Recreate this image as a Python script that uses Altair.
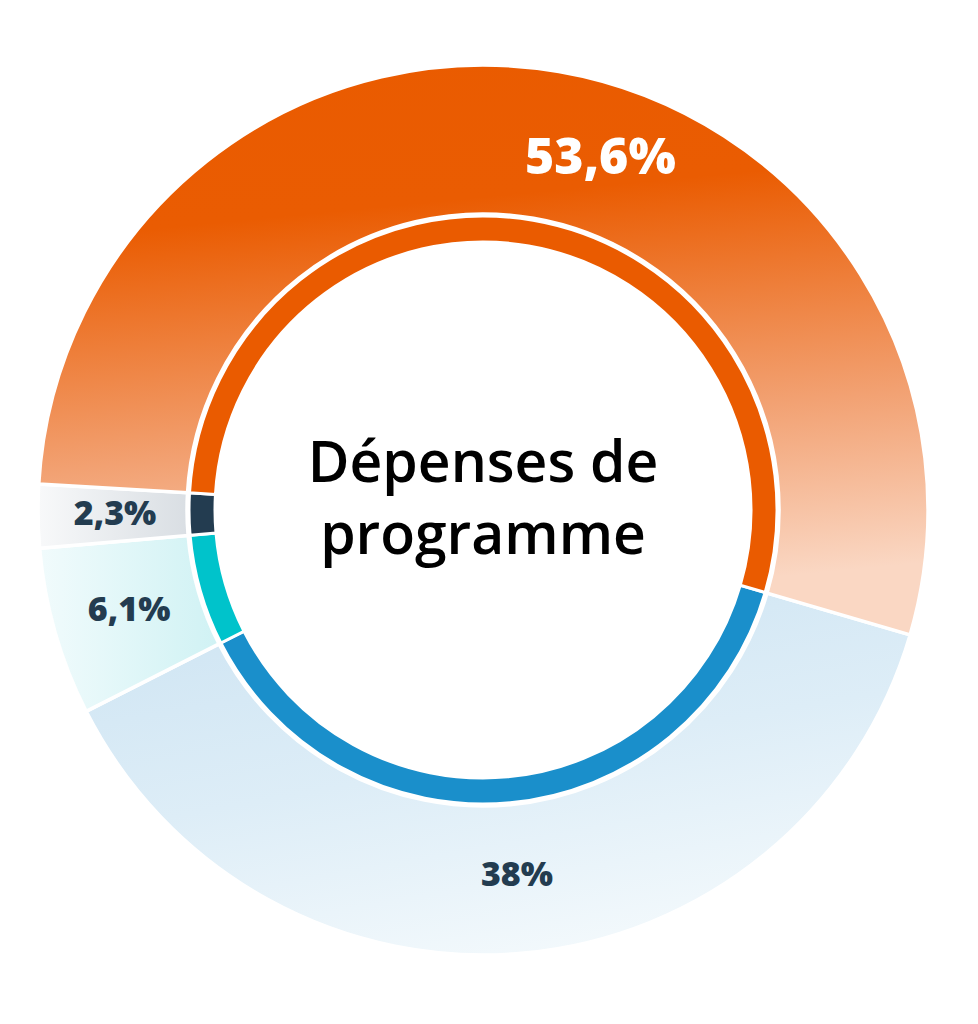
import math
import altair as alt
import pandas as pd

# ---- data ----
categories = ["Bleu", "Cyan", "Marine", "Orange"]
values = [38.0, 6.1, 2.3, 53.6]
labels = ["38%", "6,1%", "2,3%", "53,6%"]
order = [1, 2, 3, 4]
center_title = "Dépenses de\nprogramme"

# ---- style ----
solid_colors = ["#1A8FCB", "#00C3CB", "#233C50", "#EA5B00"]
gradients = {
    "Orange": dict(x1=0, y1=0, x2=0.15, y2=1,
                   stops=[(0.0, "#EA5B00"), (0.30, "#EA5C02"), (0.70, "#F2A172"), (1.0, "#FAD7C3")]),
    "Bleu": dict(x1=0.2, y1=0, x2=0.6, y2=1,
                 stops=[(0.0, "#CFE5F3"), (0.5, "#DDEDF7"), (1.0, "#F3F9FC")]),
    "Cyan": dict(x1=0, y1=0.5, x2=1, y2=0.5,
                 stops=[(0.0, "#F1FBFC"), (1.0, "#D0F2F4")]),
    "Marine": dict(x1=0, y1=0.5, x2=1, y2=0.5,
                   stops=[(0.0, "#F8F9FA"), (1.0, "#D9DEE3")]),
}

W, H = 950, 1004
START = 106.3 * math.pi / 180
theta_scale = alt.Scale(domain=[0, 100], range=[START, START + 2 * math.pi])

df = pd.DataFrame({"cat": categories, "value": values, "label": labels, "order": order})

base = (
    alt.Chart(df)
    .transform_window(end="sum(value)", sort=[alt.SortField("order")], frame=[None, 0])
    .transform_calculate(start="datum.end - datum.value", mid="datum.end - datum.value / 2")
)

layers = []
for c in categories:
    g = gradients[c]
    grad = alt.LinearGradient(
        gradient="linear",
        x1=g["x1"], y1=g["y1"], x2=g["x2"], y2=g["y2"],
        stops=[alt.GradientStop(offset=o, color=col) for o, col in g["stops"]],
    )
    layers.append(
        base.transform_filter(alt.datum.cat == c)
        .mark_arc(radius=445, radius2=296, stroke="white", strokeWidth=3.5, fill=grad)
        .encode(theta=alt.Theta("start:Q", scale=theta_scale), theta2="end:Q")
    )

inner = base.mark_arc(radius=294, radius2=268, stroke="white", strokeWidth=3).encode(
    theta=alt.Theta("start:Q", scale=theta_scale),
    theta2="end:Q",
    color=alt.Color("cat:N", scale=alt.Scale(domain=categories, range=solid_colors), legend=None),
)

small_labels = (
    base.transform_filter(alt.datum.cat != "Orange")
    .mark_text(radius=368, font="Open Sans", fontSize=34, fontWeight=800, color="#233C50",
               align="center", baseline="middle")
    .encode(theta=alt.Theta("mid:Q", scale=theta_scale, stack=None), text="label:N")
)

big_label = (
    base.transform_filter(alt.datum.cat == "Orange")
    .mark_text(radius=366, dx=55, dy=10, font="Open Sans", fontSize=50, fontWeight=800, color="white",
               align="center", baseline="middle")
    .encode(theta=alt.Theta("mid:Q", scale=theta_scale, stack=None), text="label:N")
)

center = (
    alt.Chart(pd.DataFrame({"t": [center_title]}))
    .mark_text(font="Open Sans", fontSize=57, fontWeight=600, color="#000000", lineBreak="\n",
               lineHeight=72, align="center", baseline="alphabetic")
    .encode(text="t:N", x=alt.value(W / 2), y=alt.value(H / 2 - 28))
)

chart = (
    alt.layer(*layers, inner, small_labels, big_label, center)
    .properties(width=W, height=H, autosize=alt.AutoSizeParams(type="none"), padding=0)
    .configure_view(stroke=None)
)

chart.save("out.html", embed_options={"renderer": "svg", "actions": False})
